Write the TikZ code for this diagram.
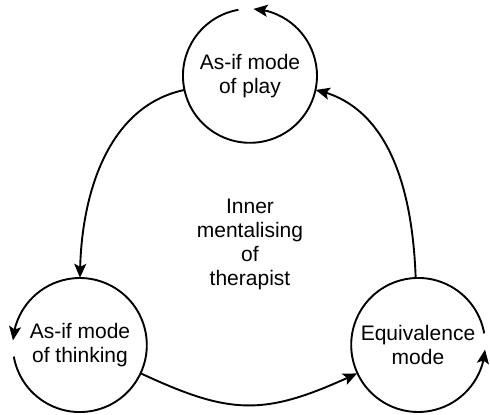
\documentclass[tikz,border=0pt]{standalone}
\usepackage{fontspec}
\setmainfont{Liberation Sans}
\usetikzlibrary{arrows.meta,bending}
\tikzset{
  mode/.style={circle, minimum size=134pt, inner sep=0pt, align=center, font=\fontsize{21}{24}\selectfont},
  looparc/.style={-{Stealth[length=14pt, width=12pt, inset=3pt]}, line width=1.9pt},
  link/.style={-{Stealth[length=14pt, width=12pt, inset=3pt]}, line width=1.9pt}
}

\begin{document}
\begin{tikzpicture}[x=1pt, y=1pt]
    \useasboundingbox (0,0) rectangle (490,415);

    \node[mode] (play) at (250,339) {As-if mode\\of play};
    \node[mode] (thinking) at (80,70) {As-if mode\\of thinking};
    \node[mode] (equiv) at (418,70) {Equivalence\\mode};
    \node[align=center, font=\fontsize{21}{24}\selectfont] (inner) at (250,171) {Inner\\mentalising\\of\\therapist};

    % each mode turns back on itself
    \draw[looparc] (play.100) arc[start angle=100, end angle=447, radius=67pt];
    \draw[looparc] (thinking.190) arc[start angle=190, end angle=536, radius=67pt];
    \draw[looparc] (equiv.10) arc[start angle=10, end angle=356, radius=67pt];

    \draw[link] (play) to[out=192, in=90, looseness=0.95] (thinking);
    \draw[link] (thinking) to[out=-25, in=205, looseness=1.2] (equiv);
    \draw[link] (equiv) to[out=92, in=-12, looseness=0.95] (play);
\end{tikzpicture}
\end{document}
